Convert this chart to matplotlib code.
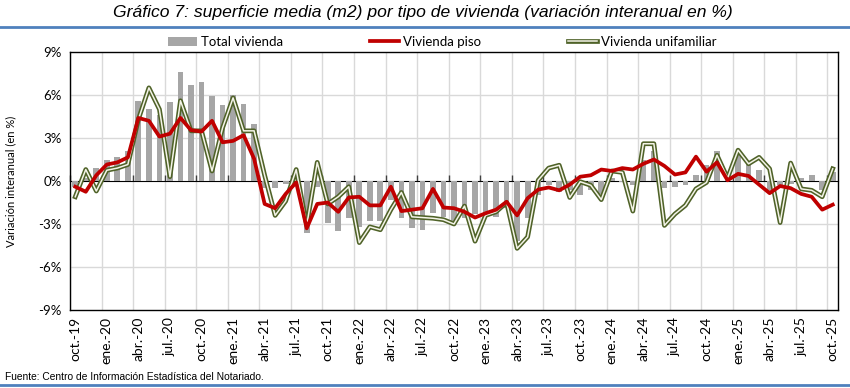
import numpy as np
import matplotlib
matplotlib.use("Agg")
import matplotlib.pyplot as plt
import matplotlib.patheffects as pe
from matplotlib.lines import Line2D
from matplotlib.patches import Patch

# Datos (variación interanual en %), oct-19 ... oct-25
meses = ["oct.-19", "ene.-20", "abr.-20", "jul.-20", "oct.-20", "ene.-21", "abr.-21",
         "jul.-21", "oct.-21", "ene.-22", "abr.-22", "jul.-22", "oct.-22", "ene.-23",
         "abr.-23", "jul.-23", "oct.-23", "ene.-24", "abr.-24", "jul.-24", "oct.-24",
         "ene.-25", "abr.-25", "jul.-25", "oct.-25"]

total_vivienda = [-0.4, 0.2, 0.9, 1.5, 1.7, 2.1, 5.6, 5.0, 4.6, 5.5, 7.6, 6.7, 6.9, 5.9, 5.3, 6.0, 5.4, 4.0,
                  -0.5, -0.5, -0.2, 0.0, -3.6, -0.4, -2.9, -3.5, -2.6, -3.2, -2.8, -2.8, -1.3, -2.6, -3.3, -3.4, -2.2, -2.5,
                  -2.9, -2.6, -2.3, -2.5, -2.5, -1.9, -4.2, -2.6, -1.0, -0.3, -0.8, -0.6, -1.0, -0.6, -0.9, 0.2, -0.1, -0.3,
                  1.5, 2.1, -0.5, -0.4, -0.3, 0.4, 1.1, 2.1, 0.5, 1.9, 1.2, 0.8, -0.7, -0.3, -0.2, 0.2, 0.4, -0.6, 0.6]

vivienda_piso = [-0.4, -0.75, 0.4, 1.15, 1.3, 1.65, 4.4, 4.2, 3.1, 3.3, 4.4, 3.55, 3.45, 4.2, 2.7, 2.8, 3.2, 1.55,
                 -1.6, -1.9, -0.9, -0.1, -3.3, -1.6, -1.5, -2.15, -1.15, -1.1, -1.7, -1.7, -0.4, -2.1, -2.0, -1.9, -0.55, -1.85,
                 -1.9, -2.15, -2.55, -2.25, -2.0, -1.45, -2.4, -1.2, -0.6, -0.45, -0.65, -0.25, 0.3, 0.4, 0.8, 0.7, 0.9, 0.8,
                 1.2, 1.5, 1.05, 0.45, 0.6, 1.7, 0.65, 1.3, 0.05, 0.5, 0.35, -0.25, -0.85, -0.35, -0.5, -0.9, -1.1, -2.0, -1.65]

vivienda_unifamiliar = [-1.1, 0.8, -0.7, 0.75, 0.9, 1.15, 4.3, 6.5, 5.0, 0.3, 5.6, 3.5, 3.5, 0.7, 3.7, 5.8, 3.5, 3.5,
                        0.4, -2.4, -1.4, 0.8, -3.1, 1.3, -1.6, -1.1, -0.4, -4.3, -3.2, -3.4, -2.0, -0.8, -2.5, -2.55, -2.6, -2.7,
                        -3.0, -1.75, -4.2, -2.4, -2.15, -1.5, -4.7, -3.9, 0.05, 0.9, 1.1, -1.15, -0.05, -0.3, -1.3, 0.7, 0.6, -2.1,
                        2.6, 2.6, -3.1, -2.3, -1.7, -0.55, -0.1, 1.8, 0.2, 2.15, 1.2, 1.65, 0.85, -2.9, 1.25, -0.55, -0.65, -1.1, 0.85]

x = np.arange(len(total_vivienda))

rojo = "#C00000"
gris = "#A6A6A6"
oliva = "#4F6228"
relleno = "#F4F4E8"
azul = "#4F81BD"
fuente_txt = ["Lato", "DejaVu Sans"]
fuente_titulo = ["Liberation Sans", "DejaVu Sans"]

fig = plt.figure(figsize=(8.5, 3.88), dpi=100)
ax = fig.add_axes([70 / 850, 1 - 310 / 388, 768 / 850, 258 / 388])

# Rejilla
for k in range(0, 25):
    ax.axvline(-0.5 + 3 * k, color="#D9D9D9", lw=1.0, zorder=0)
for v in [-6, -3, 3, 6]:
    ax.axhline(v, color="#D9D9D9", lw=1.0, zorder=0)

ax.bar(x, total_vivienda, width=0.55, color=gris, zorder=2)
ax.plot(x, vivienda_unifamiliar, color=relleno, lw=1.1, zorder=3,
        path_effects=[pe.Stroke(linewidth=3.4, foreground=oliva), pe.Normal()])
ax.plot(x, vivienda_piso, color=rojo, lw=2.7, zorder=4)

ax.set_xlim(-0.5, len(x) - 0.5)
ax.set_ylim(-9, 9)
ax.set_yticks([-9, -6, -3, 0, 3, 6, 9])
ax.set_yticklabels([f"{v}%" for v in [-9, -6, -3, 0, 3, 6, 9]], fontsize=9.5, family=fuente_txt)
ax.tick_params(axis="y", length=0, pad=6)
ax.set_xticks(x[::3])
ax.set_xticklabels(meses, rotation=90, fontsize=10, family=fuente_txt)
ax.tick_params(axis="x", length=0, pad=5)
for s in ax.spines.values():
    s.set_color("black")
    s.set_linewidth(1.0)

# Eje de categorías en 0
eje0 = ax.secondary_xaxis(0.5)
eje0.set_xticks([-0.5 + 3 * k for k in range(25)])
eje0.set_xticklabels([])
eje0.tick_params(axis="x", direction="out", length=4, width=1.0, color="#404040")
eje0.spines["bottom"].set_color("#595959")
eje0.spines["bottom"].set_linewidth(1.3)

ax.set_ylabel("Variación interanual (en %)", fontsize=8, family=fuente_txt, labelpad=16)

# Leyenda
h_tot = Patch(facecolor=gris, edgecolor="none")
h_piso = Line2D([], [], color=rojo, lw=2.7)
h_uni = Line2D([], [], color=relleno, lw=1.1,
               path_effects=[pe.Stroke(linewidth=3.4, foreground=oliva), pe.Normal()])
fig.legend([h_tot, h_piso, h_uni], ["Total vivienda", "Vivienda piso", "Vivienda unifamiliar"],
           ncol=3, loc="center", bbox_to_anchor=(0.52, 1 - 42 / 388), frameon=False,
           columnspacing=6.6, handlelength=2.2, handletextpad=0.3,
           prop={"family": fuente_txt, "size": 9.5})

fig.text(423 / 850, 1 - 13 / 388,
         "Gráfico 7: superficie media (m2) por tipo de vivienda (variación interanual en %)",
         ha="center", va="center", fontsize=12.6, style="italic", family=fuente_titulo)
fig.add_artist(Line2D([0, 1], [1 - 27 / 388, 1 - 27 / 388], color=azul, lw=2.0, transform=fig.transFigure))
fig.add_artist(Line2D([0, 1], [1 - 385 / 388, 1 - 385 / 388], color=azul, lw=2.0, transform=fig.transFigure))
fig.text(5 / 850, 1 - 377 / 388, "Fuente: Centro de Información Estadística del Notariado.",
         ha="left", va="center", fontsize=7.4, family=fuente_titulo)

fig.savefig("out.png", dpi=100)
